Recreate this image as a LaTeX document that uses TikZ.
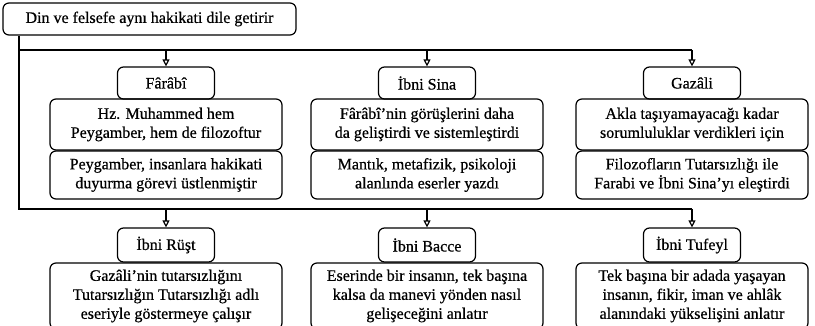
\documentclass[tikz,border=0pt]{standalone}
\usepackage{fontspec}
\setmainfont[FakeBold=0.6]{Liberation Serif}
\usetikzlibrary{arrows.meta}
\tikzset{
  box/.style={draw, rounded corners=6pt, align=center, inner sep=2pt, font=\fontsize{16}{19}\selectfont},
  namebox/.style={box, minimum width=97pt, minimum height=#1},
  namebox/.default=32pt,
  infobox/.style={box, minimum width=232pt, minimum height=#1},
  toarrow/.style={-{Triangle[open, length=7pt, width=7pt]}}
}

\begin{document}
\begin{tikzpicture}[x=1pt, y=-1pt, line width=1.2pt]
\useasboundingbox (0,0) rectangle (815,326);
\node[box, minimum width=293pt, minimum height=32pt] (top) at (149.5,19) {Din ve felsefe aynı hakikati dile getirir};
% first row
\node[namebox] (farabi) at (166,83) {Fârâbî};
\node[infobox=51pt] (farabiA) at (166,124.5) {Hz. Muhammed hem\\Peygamber, hem de filozoftur};
\node[infobox=48pt] (farabiB) at (166,175) {Peygamber, insanlara hakikati\\duyurma görevi üstlenmiştir};
\node[namebox] (sina) at (427,83) {İbni Sina};
\node[infobox=51pt] (sinaA) at (427,124.5) {Fârâbî’nin görüşlerini daha\\da geliştirdi ve sistemleştirdi};
\node[infobox=48pt] (sinaB) at (427,175) {Mantık, metafizik, psikoloji\\alanlında eserler yazdı};
\node[namebox] (gazali) at (692,83) {Gazâli};
\node[infobox=51pt] (gazaliA) at (692,124.5) {Akla taşıyamayacağı kadar\\sorumluluklar verdikleri için};
\node[infobox=48pt] (gazaliB) at (692,175) {Filozofların Tutarsızlığı ile\\Farabi ve İbni Sina’yı eleştirdi};
% second row
\node[namebox=34pt] (rust) at (166,245) {İbni Rüşt};
\node[infobox=66pt] (rustA) at (166,296) {Gazâli’nin tutarsızlığını\\Tutarsızlığın Tutarsızlığı adlı\\eseriyle göstermeye çalışır};
\node[namebox=34pt] (bacce) at (427,245) {İbni Bacce};
\node[infobox=66pt] (bacceA) at (427,296) {Eserinde bir insanın, tek başına\\kalsa da manevi yönden nasıl\\gelişeceğini anlatır};
\node[namebox=34pt] (tufeyl) at (692,245) {İbni Tufeyl};
\node[infobox=66pt] (tufeylA) at (692,296) {Tek başına bir adada yaşayan\\insanın, fikir, iman ve ahlâk\\alanındaki yükselişini anlatır};
% connectors
\coordinate (j1) at (19,50);
\coordinate (j2) at (19,209);
\draw (top.south -| j2) -- (j2) -- (j2 -| tufeyl.north);
\draw (j1) -- (j1 -| gazali.north);
\draw[toarrow] (j1 -| farabi.north) -- (farabi.north);
\draw[toarrow] (j1 -| sina.north) -- (sina.north);
\draw[toarrow] (j1 -| gazali.north) -- (gazali.north);
\draw[toarrow] (j2 -| rust.north) -- (rust.north);
\draw[toarrow] (j2 -| bacce.north) -- (bacce.north);
\draw[toarrow] (j2 -| tufeyl.north) -- (tufeyl.north);
\end{tikzpicture}
\end{document}
